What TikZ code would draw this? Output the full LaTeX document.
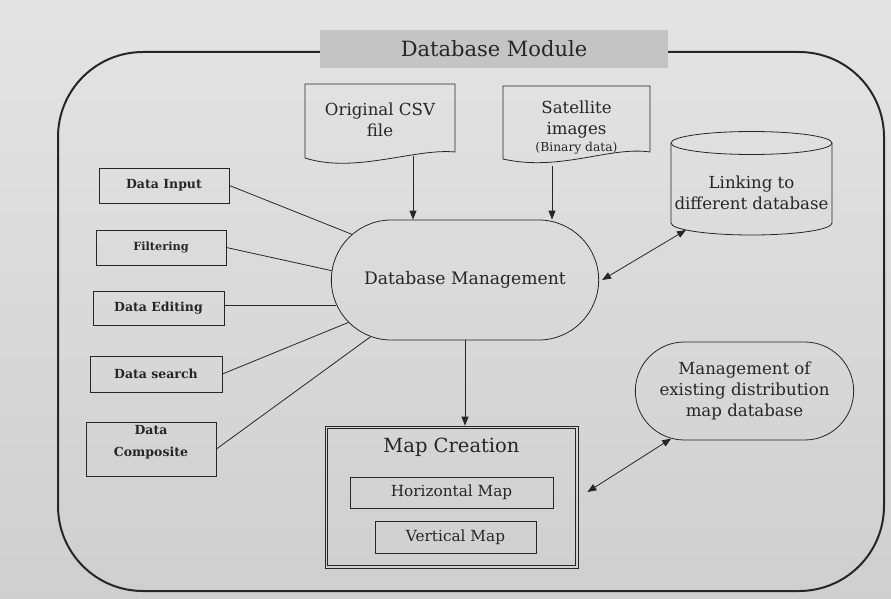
\documentclass[tikz,border=0pt]{standalone}
\usepackage{fontspec}
\setmainfont{DejaVu Serif}
\usetikzlibrary{arrows.meta,shapes.misc,calc}
\definecolor{ink}{HTML}{262626}
\definecolor{papertop}{HTML}{E4E4E4}
\definecolor{paperbot}{HTML}{CFCFCF}
\definecolor{bannerfill}{HTML}{C4C4C4}

\begin{document}
\begin{tikzpicture}[x=1pt,y=-1pt,
  every node/.style={text=ink},
  line/.style={draw=ink, line width=0.8pt},
  frame/.style={draw=ink, line width=2pt},
  big/.style={font=\fontsize{16.6}{21}\selectfont, align=center},
  sidefont/.style={font=\fontsize{12.5}{21}\selectfont\bfseries, align=center},
  sidebox/.style={line, sidefont, minimum width=130pt, minimum height=35pt, inner sep=0pt},
  arr/.style={line, -{Triangle[length=9pt,width=7pt]}},
  darr/.style={line, {Triangle[length=9pt,width=7pt]}-{Triangle[length=9pt,width=7pt]}},
]
\useasboundingbox (0,0) rectangle (891,599);
\shade[top color=papertop, bottom color=paperbot] (0,0) rectangle (891,599);

% outer module frame and its banner
\draw[frame, rounded corners=85pt] (58,52) rectangle (884,591);
\node[fill=bannerfill, minimum width=348pt, minimum height=38pt,
      font=\fontsize{21}{24}\selectfont] (title) at (494,49) {Database Module};

% input documents
\node[big, minimum width=150pt, minimum height=76pt, inner sep=0pt] (csv) at (380,120) {Original CSV\\file};
\draw[line] (305,158) -- (305,84) -- (455,84) -- (455,152)
  .. controls (415,148) and (355,174) .. (305,158);

\node[big, minimum width=147pt, minimum height=73pt, inner sep=0pt] (sat) at (576.5,128)
  {Satellite\\images\\[-4pt]{\fontsize{12.3}{13}\selectfont (Binary data)}};
\draw[line] (503,159) -- (503,86) -- (650,86) -- (650,152)
  .. controls (610,146) and (560,172) .. (503,159);

% central management node
\node[rounded rectangle, line, big, font=\fontsize{17.2}{21}\selectfont,
      minimum width=274pt, minimum height=120pt] (dm) at (465,280) {Database Management};

% external database drum
\node[big] (link) at (751.5,193) {Linking to\\different database};
\draw[line] (751.5,143) ellipse [x radius=80.5pt, y radius=11.5pt];
\draw[line] (671,143) -- (671,223) arc[start angle=180, end angle=360, x radius=80.5pt, y radius=12pt] -- (832,143);
\coordinate (linkport) at (686,230);

% existing map database
\node[rounded rectangle, line, big, minimum width=225pt, minimum height=98pt] (mgmt) at (744.5,391)
  {Management of\\existing distribution\\map database};

% map creation block
\node[line, minimum width=253pt, minimum height=142pt] (map) at (451.5,497) {};
\draw[line] ([shift={(3pt,3pt)}]map.south west) rectangle ([shift={(-3pt,-3pt)}]map.north east);
\node[font=\fontsize{19.5}{22}\selectfont] (mtitle) at (451.5,447) {Map Creation};
\node[line, font=\fontsize{15.3}{18}\selectfont, minimum width=203pt, minimum height=31pt] (hmap) at (451.5,492.5) {Horizontal Map};
\node[line, font=\fontsize{15.3}{18}\selectfont, minimum width=161pt, minimum height=32pt] (vmap) at (455.5,537) {Vertical Map};

% operations on the left
\node[sidebox] (din) at (164,185.5) {Data Input};
\node[sidebox, font=\fontsize{11.3}{12}\selectfont\bfseries] (filt) at (161,247.5) {Filtering};
\node[sidebox, minimum width=131pt, minimum height=34pt] (ded) at (158.5,308) {Data Editing};
\node[sidebox, minimum width=132pt, minimum height=36pt] (dsr) at (156,374) {Data search};
\node[sidebox, minimum height=54pt] (dcomp) at (151,449) {};
\node[sidefont] (dcomptext) at ([yshift=7pt]dcomp.center) {Data\\[1pt]Composite};

% connectors
\draw[line] (din.east) -- (dm.158);
\draw[line] (filt.east) -- (dm.176);
\draw[line] (dm.191) -- (dm.191 -| ded.east);
\draw[line] (dsr.east) -- (dm.200);
\draw[line] (dcomp.east) -- (dm.211);

\draw[arr] ([shift={(33pt,2pt)}]csv.south) -- ([xshift=33pt]csv.south |- dm.north);
\draw[arr] ([shift={(-24.5pt,-1pt)}]sat.south) -- ([xshift=-24.5pt]sat.south |- dm.north);
\draw[arr] (dm.south) -- (dm.south |- map.north);
\draw[darr] ([xshift=3pt]dm.east) -- (linkport);
\draw[darr] ([shift={(9pt,5pt)}]map.east) -- (mgmt.213);
\end{tikzpicture}
\end{document}
